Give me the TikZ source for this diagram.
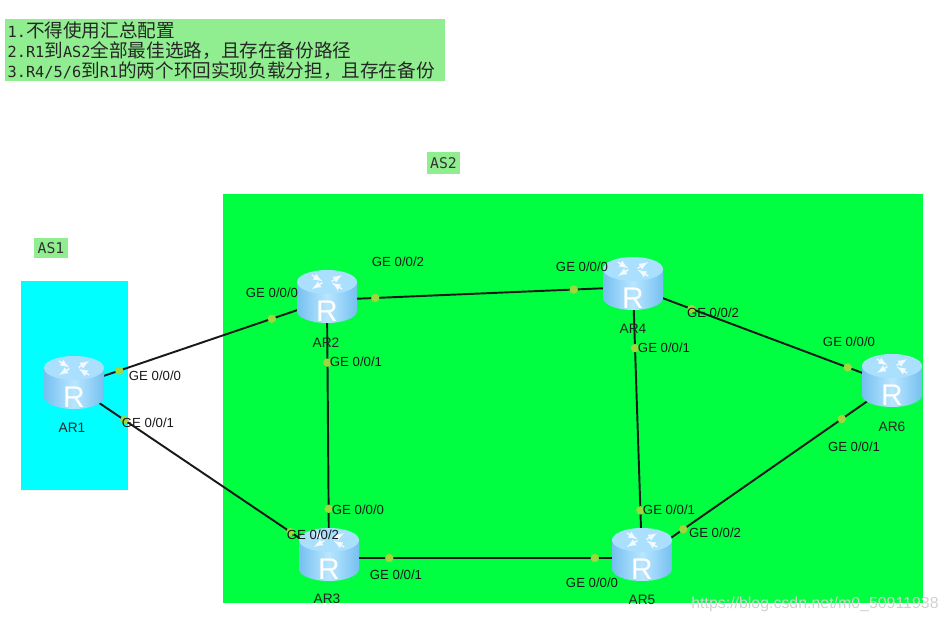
\documentclass[tikz,border=0pt]{standalone}
\usepackage{fontspec}
\setmainfont{Liberation Sans}
\newfontfamily\cjk{Noto Sans CJK SC}
\newfontfamily\monof{DejaVu Sans Mono}
\newcommand{\zh}[1]{{\cjk\fontsize{10.6}{11.3}\selectfont #1}}
\usetikzlibrary{positioning}
\definecolor{ASgreen}{RGB}{0, 255, 65}
\definecolor{AScyan}{RGB}{0, 255, 255}
\definecolor{ASlabel}{RGB}{144, 238, 144}
\definecolor{portdot}{RGB}{160, 215, 60}
\definecolor{routerA}{RGB}{118, 192, 240}
\definecolor{routerB}{RGB}{185, 230, 255}
\definecolor{routerC}{RGB}{170, 224, 253}
\tikzset{
  router/.pic={
    \path[left color=routerA, right color=routerA, middle color=routerB]
      (-30,-18) -- (-30,11) arc[x radius=30, y radius=12, start angle=180, end angle=0] -- (30,-18) -- cycle;
    \path[fill=routerC] (0,-18) ellipse[x radius=30, y radius=12];
    \foreach \a in {45,225}{
      \draw[white!85!routerC, line width=0.8pt, -latex, shift={(0,-18)}, yscale=0.6, rotate=\a] (4,2.5) -- (19,2.5);
      \draw[white!85!routerC, line width=0.8pt, -latex, shift={(0,-18)}, yscale=0.6, rotate=\a+90] (19,-2.5) -- (4,-2.5);
    }
    \node[font=\fontsize{17}{17}\selectfont, text=white, inner sep=0pt] (-R) at (0,11) {R};
  }
}
\begin{document}
\begin{tikzpicture}[x=0.02cm, y=-0.02cm,
    asbox/.style={rectangle, draw=none, inner sep=0pt, anchor=north west},
    routerbox/.style={inner sep=0pt, minimum size=0pt},
    link/.style={line width=1.1pt, black!90},
    port/.style={circle, fill=portdot, inner sep=0pt, minimum size=4.8pt},
    portlabel/.style={font=\fontsize{7.5}{8}\selectfont, text=black!90, inner sep=0pt},
    devlabel/.style={font=\fontsize{7.8}{8}\selectfont, text=black!85, inner sep=0pt},
    tag/.style={font=\monof\fontsize{8.4}{10}\selectfont, text=black!80, fill=ASlabel, inner sep=0pt}
  ]
    \useasboundingbox (0,0) rectangle (948,623);
    \node[asbox, fill=ASgreen, minimum width=14cm, minimum height=8.18cm] (as2area) at (223,194) {};
    \node[asbox, fill=AScyan, minimum width=2.14cm, minimum height=4.18cm] (as1area) at (21,281) {};
    \node[tag, minimum width=0.66cm, minimum height=0.44cm] (as2tag) at (443.5,163) {AS2};
    \node[tag, minimum width=0.68cm, minimum height=0.4cm] (as1tag) at (51,248) {AS1};
    \node[asbox, fill=ASlabel, minimum width=8.8cm, minimum height=1.24cm, text width=8.78cm, align=left,
          font=\monof\fontsize{8.7}{11.3}\selectfont, text=black!85] (goals) at (5,19)
      {\hspace*{1pt}1.\zh{不得使用汇总配置}\\
       \hspace*{1pt}2.R1\zh{到}AS2\zh{全部最佳选路，且存在备份路径}\\
       \hspace*{1pt}3.R4/5/6\zh{到}R1\zh{的两个环回实现负载分担，且存在备份}};
    \foreach \name/\x/\y in {AR1/74/386, AR2/327/300, AR3/329/558, AR4/633/287, AR5/642/558, AR6/892/384}{
      \node[routerbox] (\name) at (\x,\y) {};
    }
    \foreach \from/\to/\posa/\posb in {AR1/AR2/0.178/0.783, AR1/AR3/0.197/0.85, AR2/AR3/0.242/0.81,
        AR2/AR4/0.157/0.807, AR4/AR5/0.225/0.825, AR3/AR5/0.192/0.85, AR4/AR6/0.225/0.83, AR5/AR6/0.164/0.80}{
      \draw[link] (\from) -- node[port, pos=\posa] (\from\to a) {} node[port, pos=\posb] (\from\to b) {} (\to);
    }
    \foreach \name in {AR1,AR2,AR3,AR4,AR5,AR6}{
      \pic (\name) at (\name) {router};
    }
    \node[devlabel] (ar1text) at (72,428) {AR1};
    \node[devlabel] (ar2text) at (326,343) {AR2};
    \node[devlabel] (ar3text) at (327,599) {AR3};
    \node[devlabel] (ar4text) at (633,329) {AR4};
    \node[devlabel] (ar5text) at (642,600) {AR5};
    \node[devlabel] (ar6text) at (892,427) {AR6};
    \node[portlabel] (l1) at (155,376) {GE 0/0/0};
    \node[portlabel] (l2) at (148,423) {GE 0/0/1};
    \node[portlabel] (l3) at (272,293) {GE 0/0/0};
    \node[portlabel] (l4) at (398,262) {GE 0/0/2};
    \node[portlabel] (l5) at (356,362) {GE 0/0/1};
    \node[portlabel] (l6) at (358,510) {GE 0/0/0};
    \node[portlabel] (l7) at (313,535) {GE 0/0/2};
    \node[portlabel] (l8) at (396,575) {GE 0/0/1};
    \node[portlabel] (l9) at (582,267) {GE 0/0/0};
    \node[portlabel] (l10) at (713,313) {GE 0/0/2};
    \node[portlabel] (l11) at (664,348) {GE 0/0/1};
    \node[portlabel] (l12) at (669,510) {GE 0/0/1};
    \node[portlabel] (l13) at (715,533) {GE 0/0/2};
    \node[portlabel] (l14) at (592,583) {GE 0/0/0};
    \node[portlabel] (l15) at (849,342) {GE 0/0/0};
    \node[portlabel] (l16) at (854,447) {GE 0/0/1};
    \node[font=\fontsize{9.05}{10}\selectfont, text=white!82!black, inner sep=0pt] (mark) at (815,604) {https://blog.csdn.net/m0\_50911938};
  \end{tikzpicture}
\end{document}
